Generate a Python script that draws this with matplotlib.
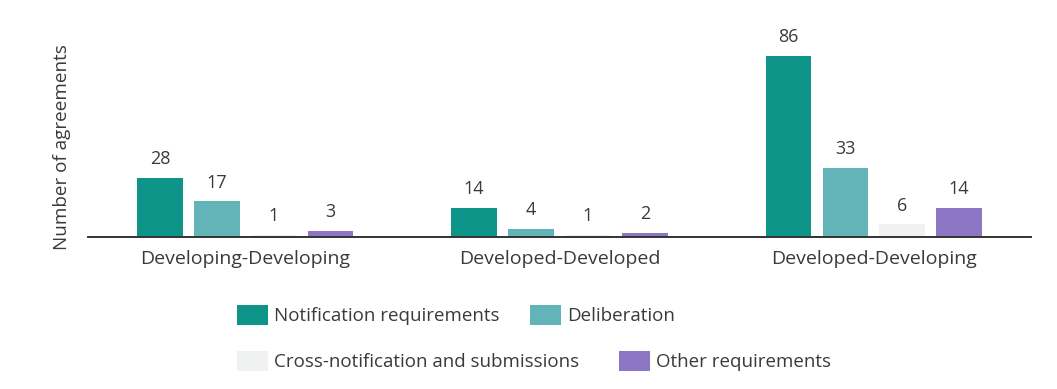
import matplotlib.pyplot as plt
import numpy as np

plt.rcParams['font.family'] = ['Open Sans', 'DejaVu Sans']

# data
groups = ['Developing-Developing', 'Developed-Developed', 'Developed-Developing']
series = ['Notification requirements', 'Deliberation',
          'Cross-notification and submissions', 'Other requirements']
notification = [28, 14, 86]
deliberation = [17, 4, 33]
cross_notification = [1, 1, 6]
other = [3, 2, 14]

colors = ['#0e9488', '#63b4b9', '#eff2f1', '#8d76c3']
text_color = '#3a3a3a'

fig = plt.figure(figsize=(10.57, 3.89), dpi=100)
ax = fig.add_axes([88 / 1057, 1 - 237 / 389, (1031 - 88) / 1057, 207 / 389])

x = np.arange(len(groups))
step = 0.181
width = 0.145
all_values = [notification, deliberation, cross_notification, other]
handles = []
for i, (vals, col, name) in enumerate(zip(all_values, colors, series)):
    pos = x + (i - 1.5) * step
    bars = ax.bar(pos, vals, width, color=col, label=name)
    handles.append(bars)
    for b, v in zip(bars, vals):
        ax.annotate(str(v), (b.get_x() + b.get_width() / 2, v),
                    xytext=(0, 7), textcoords='offset points',
                    ha='center', va='bottom', fontsize=13, color=text_color)

ax.set_xlim(-0.5, 2.5)
ax.set_ylim(0, 98.4)
ax.set_xticks(x)
ax.set_xticklabels(groups, fontsize=14, color=text_color)
ax.tick_params(axis='x', length=0, pad=9)
ax.set_yticks([])
for s in ['top', 'right', 'left']:
    ax.spines[s].set_visible(False)
ax.spines['bottom'].set_color('#333333')
ax.spines['bottom'].set_linewidth(1.4)

fig.text(62 / 1057, 1 - 147 / 389, 'Number of agreements', rotation=90,
         ha='center', va='center', fontsize=13.6, color=text_color)

# legend, two rows
legend_kw = dict(frameon=False, ncol=2, fontsize=13.5, handlelength=1.65,
                 handleheight=1.25, handletextpad=0.35, borderpad=0,
                 borderaxespad=0, labelcolor=text_color)
leg1 = fig.legend(handles[:2], series[:2], loc='center left',
                  bbox_to_anchor=(237 / 1057, 1 - 315 / 389),
                  columnspacing=1.6, **legend_kw)
leg2 = fig.legend(handles[2:], series[2:], loc='center left',
                  bbox_to_anchor=(237 / 1057, 1 - 361 / 389),
                  columnspacing=2.1, **legend_kw)

fig.savefig('out.png', dpi=100)
